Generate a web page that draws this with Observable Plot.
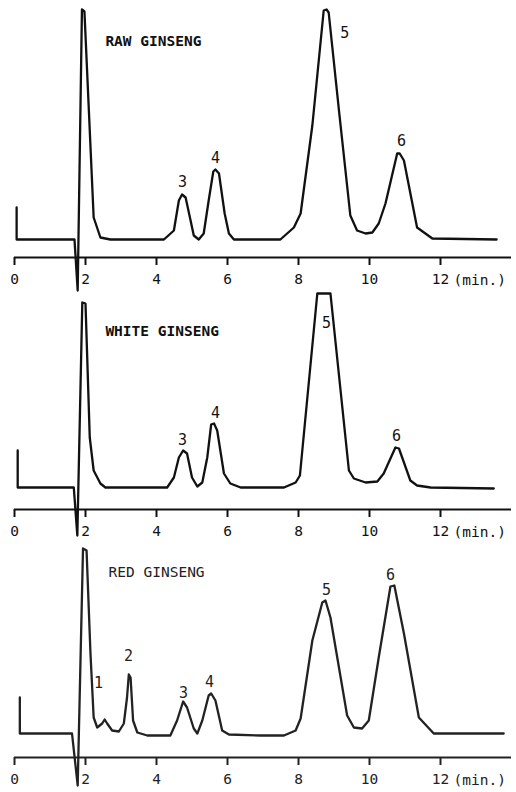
<!DOCTYPE html>
<html><head><meta charset="utf-8">
<script src="https://cdn.jsdelivr.net/npm/d3@7"></script>
<script src="https://cdn.jsdelivr.net/npm/@observablehq/plot@0.6"></script>
<style>
body{margin:0;background:#fff}
#chart{position:relative;width:516px;height:792px;overflow:hidden;background:#fff}
#chart svg{position:absolute;left:0}
</style></head>
<body><div id="chart"></div>
<script>
// ---- data (retention time in min, detector signal in arbitrary units) ----
const panelTitles = ["RAW GINSENG", "WHITE GINSENG", "RED GINSENG"];
const tickValues = [0, 2, 4, 6, 8, 10, 12];
const unitLabel = "(min.)";
const unitAt = 12;

const rawTime = [0.06,0.06,1.69,1.78,1.90,1.97,2.23,2.42,2.70,4.21,4.49,4.63,4.72,4.82,4.96,5.05,5.19,5.33,5.47,5.60,5.66,5.76,5.92,6.04,6.18,7.49,7.87,8.06,8.39,8.71,8.79,8.85,9.14,9.46,9.65,9.89,10.08,10.26,10.45,10.78,10.85,10.97,11.34,11.77,13.58];
const rawSignal = [50,18,18,-33,248,246,40,20,18,18,27,57,63,60,37,22,18,24,57,86,88,84,44,24,18,18,30,44,132,247,248,245,147,42,27,24,25,34,54,104,104,97,30,19,18];

const whiteTime = [0.09,0.09,1.67,1.77,1.91,2.00,2.12,2.23,2.42,2.56,4.30,4.49,4.63,4.75,4.86,5.00,5.15,5.29,5.43,5.54,5.62,5.71,5.90,6.08,6.37,7.59,7.92,8.04,8.53,8.90,9.42,9.56,9.89,10.22,10.40,10.73,10.83,11.15,11.34,11.72,13.50];
const whiteSignal = [59,22,22,-26,207,206,72,39,26,22,22,32,52,59,56,32,23,27,52,85,86,79,36,26,22,22,27,34,216,216,39,31,27,28,36,62,61,29,24,22,21];

const redTime = [0.15,0.15,1.62,1.78,1.93,2.03,2.14,2.23,2.33,2.47,2.54,2.61,2.75,2.94,3.08,3.17,3.22,3.27,3.34,3.46,3.74,4.39,4.58,4.75,4.86,5.05,5.15,5.29,5.47,5.54,5.66,5.85,6.04,6.93,7.59,7.92,8.06,8.39,8.67,8.76,8.90,9.37,9.56,9.79,9.98,10.26,10.59,10.70,10.97,11.39,11.81,13.78];
const redSignal = [60,24,24,-28,209,207,104,40,30,34,38,34,27,26,34,60,83,80,37,25,22,22,37,56,50,29,24,37,62,64,57,27,23,22,22,27,39,117,155,157,140,42,30,29,37,100,171,172,124,40,24,24];

// peak number annotations
const rawPeakIds = ["3","4","5","6"];
const rawPeakLabelTime = [4.73,5.66,9.30,10.90];
const rawPeakLabelSignal = [75,99,224,116];
const whitePeakIds = ["3","4","5","6"];
const whitePeakLabelTime = [4.73,5.66,8.79,10.76];
const whitePeakLabelSignal = [69,96,186,73];
const redPeakIds = ["1","2","3","4","5","6"];
const redPeakLabelTime = [2.37,3.21,4.76,5.49,8.79,10.59];
const redPeakLabelSignal = [74,101,64,75,167,182];

// title anchors
const titleTime = [2.56,2.56,2.65];
const titleSignal = [216,178,185];

// ---- drawing ----
const traces = [[rawTime,rawSignal],[whiteTime,whiteSignal],[redTime,redSignal]];
const peaks = [[rawPeakIds,rawPeakLabelTime,rawPeakLabelSignal],[whitePeakIds,whitePeakLabelTime,whitePeakLabelSignal],[redPeakIds,redPeakLabelTime,redPeakLabelSignal]];
const axisPix = [257, 509, 757];
const H = 300, MT = 10, MB = 40;
const ink = ["#111","#111","#222"];
const font = "'DejaVu Sans Mono', 'Liberation Mono', monospace";
const chart = document.getElementById("chart");

panelTitles.forEach((title, i) => {
  const [ts, vs] = traces[i];
  const data = ts.map((t, j) => ({t, v: vs[j]}));
  const [ids, pt, pv] = peaks[i];
  const labels = ids.map((id, j) => ({id, t: pt[j], v: pv[j]}));
  const svg = Plot.plot({
    width: 516, height: H,
    marginLeft: 14, marginRight: 5, marginTop: MT, marginBottom: MB,
    x: {domain: [0, 14], axis: null},
    y: {domain: [0, 250], axis: null},
    style: {background: "transparent", overflow: "visible", fontFamily: font, color: ink[i]},
    marks: [
      Plot.ruleY([0], {stroke: ink[i], strokeWidth: 2}),
      Plot.axisX({ticks: tickValues, tickSize: 8, tickPadding: 8, strokeWidth: 2, fontSize: 14.5, tickFormat: d => String(d), label: null, stroke: ink[i], fill: ink[i]}),
      Plot.text([{t: unitAt, s: unitLabel}], {x: "t", y: () => 0, text: "s", dx: 13, dy: 23, textAnchor: "start", fontSize: 14.5, fill: ink[i]}),
      Plot.line(data, {x: "t", y: "v", stroke: ink[i], strokeWidth: 2.3, strokeLinejoin: "round", strokeLinecap: "round", curve: "linear"}),
      Plot.text(labels, {x: "t", y: "v", text: "id", fontSize: 15, fill: ink[i]}),
      Plot.text([{s: title, t: titleTime[i], v: titleSignal[i]}], {x: "t", y: "v", text: "s", textAnchor: "start", fontSize: 14.5, fontWeight: i < 2 ? "bold" : "normal", fill: ink[i]})
    ]
  });
  svg.style.top = (axisPix[i] - (H - MB)) + "px";
  chart.appendChild(svg);
});
</script>
</body></html>
